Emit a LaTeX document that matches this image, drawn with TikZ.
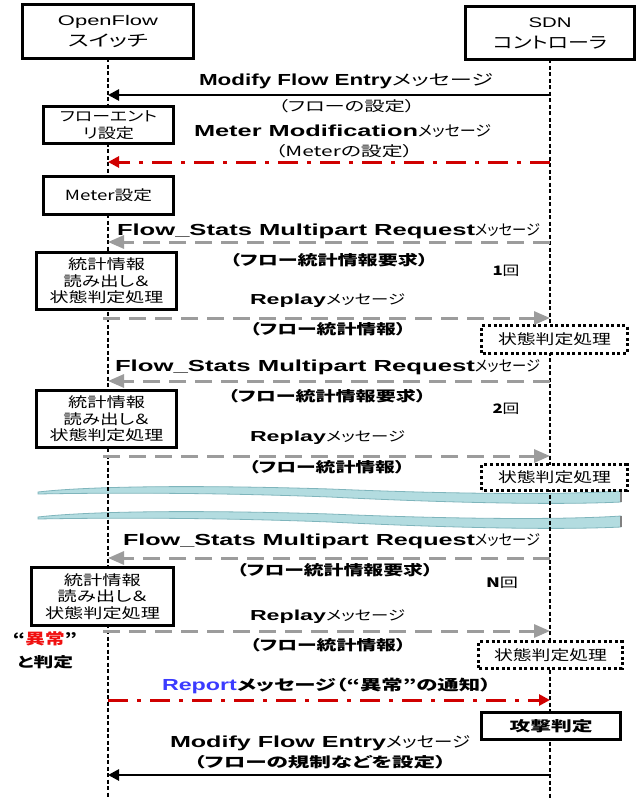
\documentclass[tikz,border=0pt]{standalone}
\usepackage{fontspec}
\usepackage{graphicx}
\setmainfont[RawFeature={+palt}]{Noto Sans CJK JP}
\newfontfamily\lat{Liberation Sans}
\usetikzlibrary{arrows.meta}
\definecolor{msggray}{HTML}{9C9C9C}
\definecolor{msgred}{HTML}{D00000}
\definecolor{repblue}{HTML}{3B3BFF}
\definecolor{repred}{HTML}{F01010}
\definecolor{bandfill}{HTML}{B3DCE0}
\definecolor{bandedge}{HTML}{7FB5BC}
\newcommand\fitw[2]{\resizebox{#1}{\height}{#2}}
\newcommand\LB[2][16]{{\lat\bfseries\fontsize{#1}{#1}\selectfont #2}}
\newcommand\JK[2][14.5]{{\fontsize{#1}{#1}\selectfont #2}}
\newcommand\JB[2][14]{{\bfseries\fontsize{#1}{#1}\selectfont #2}}
\tikzset{
  lab/.style={inner sep=0pt, outer sep=0pt},
  boxs/.style={fill=white, inner sep=0pt, align=center, font=\fontsize{14}{16.5}\selectfont},
  hdr/.style={fill=white, inner sep=0pt, align=center, font=\fontsize{15}{21}\selectfont},
  boxline/.style={line width=3.2pt},
  hdrline/.style={line width=2.8pt},
  dotline/.style={line width=3pt, dash pattern=on 3pt off 2.6pt},
  life/.style={line width=1.2pt, dash pattern=on 4pt off 2.5pt},
  solidmsg/.style={line width=2.6pt, -{Triangle[length=11pt,width=11pt]}},
  graymsg/.style={draw=msggray, line width=3pt, dash pattern=on 17pt off 9pt, -{Triangle[length=16pt,width=13pt]}},
  redmsg/.style={draw=msgred, line width=3pt, dash pattern=on 20pt off 9pt on 4pt off 9pt, -{Triangle[length=11pt,width=11pt]}},
  band/.style={fill=bandfill, draw=bandedge, line width=0.8pt},
}
\begin{document}
\begin{tikzpicture}[x=1pt,y=-1pt]
\useasboundingbox[fill=white] (0,0) rectangle (638,798);

% wavy break bands
\foreach \dy in {0,25}{
  \begin{scope}[yshift=-\dy pt]
  \path[band] (38,492) .. controls (90,486) and (200,485) .. (330,489)
     .. controls (450,494) and (560,495) .. (621,491) -- (621,502)
     .. controls (560,505) and (450,503) .. (330,497)
     .. controls (200,492) and (90,493) .. (38,494) -- cycle;
  \draw[line width=1.2pt, draw=gray] (621,491) -- (621,502);
  \end{scope}
}

% headers
\node[hdr, minimum width=170pt, minimum height=53pt] (hdrL) at (108,31.5)
  {\fitw{100pt}{\LB[14]{\mdseries OpenFlow}}\\\fitw{80pt}{\JK[16]{スイッチ}}};
\node[hdr, minimum width=168pt, minimum height=52pt] (hdrR) at (550,33)
  {\fitw{43pt}{\LB[14]{\mdseries SDN}}\\\fitw{114pt}{\JK[16]{コントローラ}}};

% lifelines
\coordinate (endL) at (108,798);
\coordinate (endR) at (550,798);
\draw[life] (hdrL.south) -- (endL);
\draw[life] (hdrR.south) -- (endR);

% switch-side boxes
\node[boxs, minimum width=129pt, minimum height=36pt] (b1) at (108.5,125)
  {\fitw{97pt}{\JK[14]{フローエント}}\\\fitw{51pt}{\JK[14]{リ設定}}};
\node[boxs, minimum width=129pt, minimum height=37pt] (b2) at (108.5,195.5)
  {\fitw{87pt}{\JK[14]{Meter設定}}};
\node[boxs, minimum width=139pt, minimum height=56pt] (s1) at (106.5,281)
  {\fitw{77pt}{\JK[14]{統計情報}}\\\fitw{86pt}{\JK[14]{読み出し＆}}\\\fitw{114pt}{\JK[14]{状態判定処理}}};
\node[boxs, minimum width=139pt, minimum height=56pt] (s2) at (106.5,419)
  {\fitw{77pt}{\JK[14]{統計情報}}\\\fitw{86pt}{\JK[14]{読み出し＆}}\\\fitw{114pt}{\JK[14]{状態判定処理}}};
\node[boxs, minimum width=141pt, minimum height=57pt] (s3) at (102.5,596.5)
  {\fitw{77pt}{\JK[14]{統計情報}}\\\fitw{90pt}{\JK[14]{読み出し＆}}\\\fitw{115pt}{\JK[14]{状態判定処理}}};

% controller-side boxes
\node[boxs, minimum width=145pt, minimum height=27pt] (d1) at (554.5,339.5)
  {\fitw{113pt}{\JK[14]{状態判定処理}}};
\node[boxs, minimum width=145pt, minimum height=25pt] (d2) at (554.5,477.5)
  {\fitw{113pt}{\JK[14]{状態判定処理}}};
\node[boxs, minimum width=143pt, minimum height=26pt] (d3) at (550.5,655)
  {\fitw{113pt}{\JK[14]{状態判定処理}}};
\node[boxs, minimum width=138pt, minimum height=26pt] (atk) at (551,726)
  {\fitw{83pt}{\JB[14]{攻撃判定}}};

% borders (drawn separately)
\draw[hdrline] (hdrL.south west) rectangle (hdrL.north east);
\draw[hdrline] (hdrR.south west) rectangle (hdrR.north east);
\foreach \b in {b1,b2,s1,s2,s3,atk}{
  \draw[boxline] (\b.south west) rectangle (\b.north east);
}
\foreach \b in {d1,d2,d3}{
  \draw[dotline] (\b.south west) rectangle (\b.north east);
}

% message coordinates
\coordinate (L1) at (108,95);   \coordinate (R1) at (550,95);
\coordinate (L2) at (108,162);  \coordinate (R2) at (550,162);
\coordinate (L3) at (108,242);  \coordinate (R3) at (550,242);
\coordinate (L4) at (103,318);  \coordinate (R4) at (550,318);
\coordinate (L5) at (108,381);  \coordinate (R5) at (550,381);
\coordinate (L6) at (103,456);  \coordinate (R6) at (550,456);
\coordinate (L7) at (108,558);  \coordinate (R7) at (550,558);
\coordinate (L8) at (103,631);  \coordinate (R8) at (550,631);
\coordinate (L9) at (108,700);  \coordinate (R9) at (550,700);
\coordinate (L10) at (108,775); \coordinate (R10) at (550,775);

\draw[solidmsg] (R1) -- (L1);
\draw[redmsg] (R2) -- (L2);
\draw[graymsg] (R3) -- (L3);
\draw[graymsg] (L4) -- (R4);
\draw[graymsg] (R5) -- (L5);
\draw[graymsg] (L6) -- (R6);
\draw[graymsg] (R7) -- (L7);
\draw[graymsg] (L8) -- (R8);
\draw[redmsg] (L9) -- (R9);
\draw[solidmsg] (R10) -- (L10);

% message labels
\node[lab, anchor=west] (t1) at (199,81) {\fitw{193pt}{\LB{Modify Flow Entry}}\fitw{101pt}{\JK[15]{メッセージ}}};
\node[lab] (t1s) at (346.5,106) {\fitw{137pt}{\JK[14]{（フローの設定）}}};
\node[lab, anchor=west] (t2) at (194,131) {\fitw{224pt}{\LB{Meter Modification}}\fitw{73pt}{\JK[15]{メッセージ}}};
\node[lab] (t2s) at (344,151) {\fitw{138pt}{\JK[14]{（Meterの設定）}}};

\node[lab, anchor=west] (t3) at (117,231) {\fitw{358pt}{\LB{Flow\_Stats Multipart Request}}\fitw{65pt}{\JK[15]{メッセージ}}};
\node[lab] (t3s) at (329,260) {\fitw{198pt}{\JB[14]{（フロー統計情報要求）}}};
\node[lab] (n1) at (506,271) {\fitw{27pt}{\JK[13]{\textbf{1}回}}};
\node[lab, anchor=west] (t4) at (250,301) {\fitw{76pt}{\LB[14.5]{Replay}}\fitw{79pt}{\JK[13.5]{メッセージ}}};
\node[lab] (t4s) at (328,329) {\fitw{156pt}{\JB[14]{（フロー統計情報）}}};

\node[lab, anchor=west] (t5) at (115,367) {\fitw{360pt}{\LB{Flow\_Stats Multipart Request}}\fitw{65pt}{\JK[15]{メッセージ}}};
\node[lab] (t5s) at (327,396) {\fitw{198pt}{\JB[14]{（フロー統計情報要求）}}};
\node[lab] (n2) at (506,409) {\fitw{27pt}{\JK[13]{\textbf{2}回}}};
\node[lab, anchor=west] (t6) at (250,438) {\fitw{76pt}{\LB[14.5]{Replay}}\fitw{79pt}{\JK[13.5]{メッセージ}}};
\node[lab] (t6s) at (327,467) {\fitw{156pt}{\JB[14]{（フロー統計情報）}}};

\node[lab, anchor=west] (t7) at (123,541) {\fitw{352pt}{\LB{Flow\_Stats Multipart Request}}\fitw{65pt}{\JK[15]{メッセージ}}};
\node[lab] (t7s) at (335,570) {\fitw{196pt}{\JB[14]{（フロー統計情報要求）}}};
\node[lab] (n3) at (502,583) {\fitw{32pt}{\JK[13]{\textbf{N}回}}};
\node[lab, anchor=west] (t8) at (250,617) {\fitw{76pt}{\LB[14.5]{Replay}}\fitw{79pt}{\JK[13.5]{メッセージ}}};
\node[lab] (t8s) at (328,645) {\fitw{156pt}{\JB[14]{（フロー統計情報）}}};

\node[lab] (ab1) at (45,639) {\fitw{64pt}{\JB[15]{“\textcolor{repred}{異常}”}}};
\node[lab] (ab2) at (45,662) {\fitw{56pt}{\JB[14]{と判定}}};

\node[lab, anchor=west] (t9) at (162,686) {\fitw{75pt}{\LB{\color{repblue}Report}}\fitw{254pt}{\JB[14.5]{メッセージ（“異常”の通知）}}};
\node[lab, anchor=west] (t10) at (170,743) {\fitw{216pt}{\LB{Modify Flow Entry}}\fitw{84pt}{\JK[15]{メッセージ}}};
\node[lab] (t10s) at (320,762) {\fitw{252pt}{\JB[14]{（フローの規制などを設定）}}};
\end{tikzpicture}
\end{document}
